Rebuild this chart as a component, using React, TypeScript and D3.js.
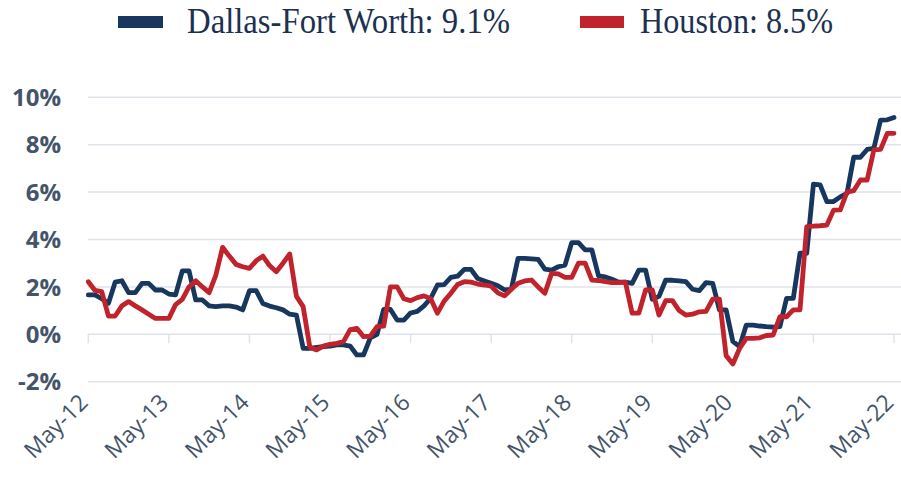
import React from "react";
import * as d3 from "d3";

// monthly y/y change, May-12 .. May-22
const dfw = [
  1.66, 1.66, 1.5, 1.31, 2.2, 2.26, 1.76, 1.76, 2.15, 2.15, 1.87, 1.87, 1.7, 1.66, 2.68, 2.68, 1.45,
  1.45, 1.2, 1.17, 1.2, 1.2, 1.15, 1.03, 1.84, 1.84, 1.3, 1.19, 1.12, 1.03, 0.85, 0.81, -0.59,
  -0.59, -0.55, -0.52, -0.5, -0.45, -0.45, -0.5, -0.87, -0.87, -0.15, 0.0, 1.05, 1.05, 0.6, 0.6,
  0.9, 0.97, 1.2, 1.52, 2.08, 2.1, 2.4, 2.45, 2.74, 2.74, 2.35, 2.25, 2.15, 2.05, 1.87, 1.9, 3.2,
  3.2, 3.18, 3.16, 2.75, 2.71, 2.85, 2.92, 3.87, 3.87, 3.56, 3.56, 2.46, 2.42, 2.32, 2.2, 2.2,
  2.15, 2.71, 2.71, 1.48, 1.6, 2.29, 2.28, 2.25, 2.22, 1.9, 1.84, 2.18, 2.15, 1.03, 1.03, -0.3,
  -0.52, 0.39, 0.39, 0.35, 0.32, 0.3, 0.32, 1.52, 1.52, 3.42, 3.42, 6.34, 6.3, 5.6, 5.6, 5.8,
  5.95, 7.47, 7.47, 7.8, 7.85, 9.04, 9.05, 9.15,
];

const houston = [
  2.22, 1.85, 1.8, 0.77, 0.77, 1.2, 1.38, 1.2, 1.03, 0.85, 0.67, 0.67, 0.67, 1.25, 1.47, 2.0, 2.26,
  2.0, 1.76, 2.5, 3.67, 3.3, 2.95, 2.85, 2.78, 3.1, 3.3, 2.9, 2.64, 3.0, 3.39, 1.6, 1.17, -0.55,
  -0.66, -0.5, -0.42, -0.38, -0.31, 0.2, 0.25, -0.1, -0.08, 0.32, 0.35, 2.0, 2.0, 1.5, 1.42, 1.55,
  1.62, 1.5, 0.89, 1.4, 1.73, 2.1, 2.22, 2.2, 2.12, 2.08, 2.03, 1.75, 1.62, 1.9, 2.15, 2.25, 2.29,
  2.0, 1.73, 2.57, 2.55, 2.4, 2.4, 3.0, 3.0, 2.29, 2.27, 2.22, 2.18, 2.18, 2.2, 0.89, 0.89, 1.87,
  1.87, 0.81, 1.42, 1.42, 1.0, 0.81, 0.85, 0.95, 0.97, 1.48, 1.48, -0.9, -1.25, -0.6, -0.17, -0.17,
  -0.15, -0.05, -0.03, 0.74, 0.74, 1.03, 1.03, 4.54, 4.56, 4.58, 4.61, 5.24, 5.25, 6.0, 6.06, 6.51,
  6.51, 7.78, 7.8, 8.48, 8.48,
];

const xLabels = ["May-12", "May-13", "May-14", "May-15", "May-16", "May-17", "May-18", "May-19", "May-20", "May-21", "May-22"];
const yTicks = [-2, 0, 2, 4, 6, 8, 10];

const seriesNames = ["Dallas-Fort Worth: 9.1%", "Houston: 8.5%"];
const navy = "#17375e";
const red = "#c1232c";

const W = 901;
const H = 487;

export default function App() {
  const x = d3.scaleLinear().domain([0, 120]).range([88.3, 894]);
  const y = d3.scaleLinear().domain([-2, 10]).range([381.7, 97.3]);

  const line = d3
    .line<number>()
    .x((_, i) => x(i))
    .y((d) => y(d));

  return (
    <div style={{ position: "absolute", left: 0, top: 0 }}>
      <svg width={W} height={H} style={{ display: "block" }}>
        {/* legend */}
        <rect x={118} y={16} width={45} height={12} fill={navy} />
        <text
          x={187}
          y={33}
          fontFamily="Liberation Serif"
          fontSize={36}
          fill="#1c3050"
          textLength={323}
          lengthAdjust="spacingAndGlyphs"
        >
          {seriesNames[0]}
        </text>
        <rect x={580} y={16} width={44} height={12} fill={red} />
        <text
          x={640}
          y={33}
          fontFamily="Liberation Serif"
          fontSize={36}
          fill="#1c3050"
          textLength={193}
          lengthAdjust="spacingAndGlyphs"
        >
          {seriesNames[1]}
        </text>

        {/* grid */}
        {yTicks.map((t) => (
          <g key={t}>
            <line x1={88} x2={901} y1={y(t)} y2={y(t)} stroke="#dfe3ea" strokeWidth={1.5} />
            <text
              x={61}
              y={y(t)}
              dy="0.36em"
              textAnchor="end"
              fontFamily="Open Sans"
              fontWeight={700}
              fontSize={24}
              fill="#44546a"
            >
              {t}%
            </text>
          </g>
        ))}

        {/* x ticks */}
        {xLabels.map((lab, i) => {
          const tx = x(i * 12);
          return (
            <g key={lab}>
              <line x1={tx} x2={tx} y1={y(0)} y2={y(0) + 9} stroke="#dfe3ea" strokeWidth={1.5} />
              <text
                transform={`translate(${tx + 1},${404}) rotate(-45)`}
                textAnchor="end"
                fontFamily="Open Sans"
                fontSize={23}
                fill="#44546a"
              >
                {lab}
              </text>
            </g>
          );
        })}

        <path d={line(dfw) || ""} fill="none" stroke={navy} strokeWidth={4.8} strokeLinejoin="round" strokeLinecap="round" />
        <path d={line(houston) || ""} fill="none" stroke={red} strokeWidth={4.8} strokeLinejoin="round" strokeLinecap="round" />
      </svg>
    </div>
  );
}
